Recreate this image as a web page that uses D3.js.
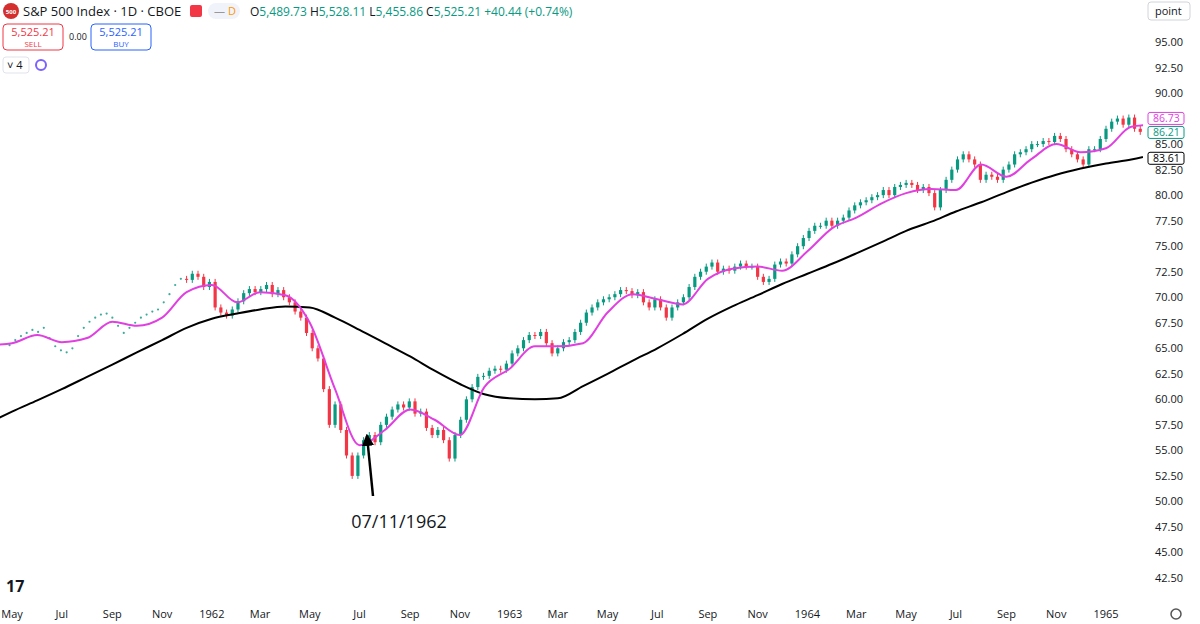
<!DOCTYPE html>
<html><head><meta charset="utf-8">
<script src="https://cdn.jsdelivr.net/npm/d3@7"></script>
<style>
body{margin:0;background:#fff;font-family:"Open Sans",Roboto,sans-serif}
</style></head><body>
<svg id="chart" width="1200" height="624"></svg>
<script>
// weekly closes, starting end of April 1961
const weekStart = new Date(1961, 3, 28);
const closes = [65.3,
 65.8,66.2,66.5,66.8,66.6, 67.0,66.0,65.2,64.8, 64.6,65.0,66.2,67.0, 67.6,68.0,68.3,68.4,68.0,
 67.2,66.5,67.0,67.5, 68.0,68.3,68.6,68.8, 69.5,70.3,71.2,71.8,71.7, 72.3,72.0,71.0,71.5,
 69.0,68.5,68.2,68.8, 69.6,70.4,70.8,70.5, 70.8,71.2,70.3,70.7,70.0, 69.5,68.6,68.0,66.5,
 65.0,64.0,61.0,57.5, 59.5,57.0,54.5,52.5,54.5, 56.0,56.5,55.8,57.5, 58.3,59.0,59.5,59.2,59.8,
 58.6,58.8,57.2,56.5, 57.0,56.0,54.2,56.5, 58.0,60.0,61.2,62.2,62.3, 62.8,63.0,62.9,63.5,
 64.5,65.0,65.8,66.3, 66.2,66.6,65.5,64.5, 65.0,65.6,65.8,66.6, 67.5,68.5,69.0,69.5,69.8,
 70.0,70.3,70.7,70.6, 70.2,70.5,69.5,69.0, 69.8,69.0,68.0,69.0,69.5, 70.0,71.0,72.0,72.5,
 73.0,73.4,72.5,72.8, 72.6,73.0,73.3,73.0,73.0, 72.0,71.5,71.8,73.2, 73.5,73.3,74.2,75.0,
 75.8,76.5,77.0,77.0,77.5, 77.0,77.5,77.8,78.5, 79.0,79.3,79.5,79.8, 80.0,80.5,80.0,80.8,
 81.0,81.2,81.0,80.5,80.8, 80.2,78.8,80.5,81.5, 82.5,83.5,84.0,83.5,83.0, 81.5,82.0,81.8,81.5,
 82.5,83.0,84.0,84.2, 84.5,85.0,85.0,85.3,85.2, 85.8,85.5,84.5,84.0, 83.5,83.0,84.5,84.5,
 85.5,86.5,87.2,87.5, 86.9,87.6,86.5,86.2];

// moving averages read at month starts, Apr 1961 .. Mar 1965
const maStart = new Date(1961, 3, 1);
const fastMA = [65.3,65.5,66.3,65.6,66.0,67.6,67.2,68.0,70.5,
 71.2,69.5,70.5,70.2,67.5,61.0,55.5,57.0,59.0,58.0,56.5,61.2,
 63.0,65.2,65.2,65.5,68.5,70.3,69.8,69.3,71.8,72.8,73.0,72.6,
 74.5,76.8,77.8,79.2,80.2,80.6,80.5,83.0,81.8,83.5,85.0,84.2,
 84.6,86.7,86.9];
const slowMA = [57.6,58.8,59.9,61.0,62.2,63.4,64.6,65.8,67.0,
 67.9,68.4,68.8,69.1,69.0,68.0,66.8,65.5,64.2,62.8,61.5,60.5,
 60.1,60.0,60.1,61.3,62.5,63.8,65.0,66.4,67.9,69.1,70.2,71.3,
 72.3,73.3,74.3,75.4,76.5,77.4,78.4,79.3,80.3,81.2,82.0,82.6,
 83.1,83.5,84.0];
const lastLabels = [86.73, 86.21, 83.61];
const priceTicks = [42.5,45,47.5,50,52.5,55,57.5,60,62.5,65,67.5,70,72.5,75,77.5,80,82.5,85,87.5,90,92.5,95];
const timeTicks = [[1961,4,"May"],[1961,6,"Jul"],[1961,8,"Sep"],[1961,10,"Nov"],[1962,0,"1962"],[1962,2,"Mar"],[1962,4,"May"],[1962,6,"Jul"],[1962,8,"Sep"],[1962,10,"Nov"],[1963,0,"1963"],[1963,2,"Mar"],[1963,4,"May"],[1963,6,"Jul"],[1963,8,"Sep"],[1963,10,"Nov"],[1964,0,"1964"],[1964,2,"Mar"],[1964,4,"May"],[1964,6,"Jul"],[1964,8,"Sep"],[1964,10,"Nov"],[1965,0,"1965"]];

const svg = d3.select('#chart');
const plotW = 1143;
const x = d3.scaleTime().domain([new Date(1961,4,1), new Date(1965,0,1)]).range([12,1106]);
const y = d3.scaleLinear().domain([42.5,95]).range([578,42]);
const up = '#089981', down = '#f23645', pink = '#e040e0';

const plot = svg.append('g');
plot.append('clipPath').attr('id','clip').append('rect').attr('x',0).attr('y',0).attr('width',plotW).attr('height',600);
const g = plot.append('g').attr('clip-path','url(#clip)');

const bars = closes.map((c,i) => ({
  d: d3.timeDay.offset(weekStart, 7*i),
  o: i ? closes[i-1] : c, c: c
}));
const cutoff = new Date(1961,11,1);

// pre-December: dotted line style
g.selectAll('circle.dot').data(bars.filter(b => b.d < cutoff)).join('circle')
  .attr('cx', b => x(b.d)).attr('cy', b => y(b.c)).attr('r',1.1).attr('fill', up).attr('opacity',0.8);
const cb = bars.filter(b => b.d >= cutoff);
g.selectAll('line.wick').data(cb).join('line')
  .attr('x1', b => x(b.d)).attr('x2', b => x(b.d))
  .attr('y1', b => y(Math.max(b.o,b.c)) - 3).attr('y2', b => y(Math.min(b.o,b.c)) + 3)
  .attr('stroke', b => b.c >= b.o ? up : down).attr('stroke-width',1);
g.selectAll('rect.body').data(cb).join('rect')
  .attr('x', b => x(b.d) - 1.6).attr('width', 3.2)
  .attr('y', b => y(Math.max(b.o,b.c))).attr('height', b => Math.max(1, Math.abs(y(b.o)-y(b.c))))
  .attr('fill', b => b.c >= b.o ? up : down);

const maDates = fastMA.map((v,i) => d3.timeMonth.offset(maStart, i));
const line = d3.line().x((v,i) => x(maDates[i])).y(v => y(v)).curve(d3.curveMonotoneX);
g.append('path').datum(slowMA).attr('d', line).attr('fill','none').attr('stroke','#000').attr('stroke-width',2);
g.append('path').datum(fastMA).attr('d', line).attr('fill','none').attr('stroke',pink).attr('stroke-width',2);

// price axis
const ya = svg.append('g');
priceTicks.forEach(t => ya.append('text').attr('x',1155).attr('y',y(t)+4).attr('font-size',11).attr('fill','#131722').text(t.toFixed(2)));
svg.append('rect').attr('x',1148).attr('y',2).attr('width',42).attr('height',18).attr('rx',3).attr('fill','#fff').attr('stroke','#d1d4dc');
svg.append('text').attr('x',1155).attr('y',15).attr('font-size',11).attr('fill','#131722').text('point');
// last-value labels, pushed apart so they don't overlap
const labelCols = [pink, up, '#000'];
let prevY = -Infinity;
lastLabels.forEach((v,i) => {
  let ly = Math.max(y(v), prevY + 14);
  if (i === 0) ly = y(v) - 8;
  if (i === 1) ly = prevY + 14;
  prevY = ly;
  svg.append('rect').attr('x',1148).attr('y',ly-6).attr('width',36).attr('height',12).attr('rx',2).attr('fill','#fff').attr('stroke',labelCols[i]);
  svg.append('text').attr('x',1153).attr('y',ly+4).attr('font-size',10.5).attr('fill',labelCols[i]).text(v.toFixed(2));
});

// time axis
timeTicks.forEach(([yr,m,l]) => svg.append('text').attr('x',x(new Date(yr,m,1))).attr('y',618)
  .attr('text-anchor','middle').attr('font-size',11).attr('fill','#131722').text(l));

// header
svg.append('circle').attr('cx',11).attr('cy',11).attr('r',8).attr('fill','#d32f2f');
svg.append('text').attr('x',11).attr('y',14).attr('text-anchor','middle').attr('font-size',6).attr('fill','#fff').attr('font-weight','bold').text('500');
svg.append('text').attr('x',23).attr('y',16).attr('font-size',13).attr('fill','#131722').text('S&P 500 Index · 1D · CBOE');
svg.append('rect').attr('x',190).attr('y',5).attr('width',12).attr('height',12).attr('rx',2).attr('fill','#f23645');
svg.append('rect').attr('x',208).attr('y',3).attr('width',32).attr('height',16).attr('rx',8).attr('fill','#f0f3fa');
svg.append('text').attr('x',214).attr('y',15).attr('font-size',11).attr('fill','#999').text('—');
svg.append('text').attr('x',228).attr('y',15).attr('font-size',11).attr('fill','#ff9800').text('D');
const hdr = svg.append('text').attr('x',250).attr('y',16).attr('font-size',12);
[['O','#131722'],['5,489.73 ',up],['H','#131722'],['5,528.11 ',up],['L','#131722'],['5,455.86 ',up],['C','#131722'],['5,525.21 +40.44 (+0.74%)',up]]
  .forEach(([t,c]) => hdr.append('tspan').attr('fill',c).text(t));
svg.append('rect').attr('x',3).attr('y',24).attr('width',60).attr('height',26).attr('rx',4).attr('fill','#fff').attr('stroke','#f23645');
svg.append('text').attr('x',33).attr('y',36).attr('text-anchor','middle').attr('font-size',11).attr('fill','#f23645').text('5,525.21');
svg.append('text').attr('x',33).attr('y',47).attr('text-anchor','middle').attr('font-size',8).attr('fill','#f23645').text('SELL');
svg.append('text').attr('x',69).attr('y',40).attr('font-size',9).attr('fill','#131722').text('0.00');
svg.append('rect').attr('x',91).attr('y',24).attr('width',60).attr('height',26).attr('rx',4).attr('fill','#fff').attr('stroke','#2962ff');
svg.append('text').attr('x',121).attr('y',36).attr('text-anchor','middle').attr('font-size',11).attr('fill','#2962ff').text('5,525.21');
svg.append('text').attr('x',121).attr('y',47).attr('text-anchor','middle').attr('font-size',8).attr('fill','#2962ff').text('BUY');
svg.append('rect').attr('x',3).attr('y',57).attr('width',26).attr('height',16).attr('rx',3).attr('fill','#fff').attr('stroke','#e0e3eb');
svg.append('text').attr('x',7).attr('y',69).attr('font-size',11).attr('fill','#131722').text('˅ 4');
svg.append('circle').attr('cx',41).attr('cy',65).attr('r',5).attr('fill','none').attr('stroke','#7b61ff').attr('stroke-width',2);

// TV logo & gear
svg.append('text').attr('x',6).attr('y',592).attr('font-size',16).attr('font-weight','bold').attr('fill','#131722').text('17');
svg.append('circle').attr('cx',1176).attr('cy',614).attr('r',5).attr('fill','none').attr('stroke','#555').attr('stroke-width',1.5);

// annotation
svg.append('defs').append('marker').attr('id','ah').attr('viewBox','0 0 10 10').attr('refX',8).attr('refY',5)
  .attr('markerWidth',5).attr('markerHeight',5).attr('orient','auto')
  .append('path').attr('d','M0,0 L10,5 L0,10 Z').attr('fill','#000');
svg.append('line').attr('x1',373).attr('y1',496).attr('x2',367).attr('y2',436).attr('stroke','#000').attr('stroke-width',2.5).attr('marker-end','url(#ah)');
svg.append('text').attr('x',399).attr('y',528).attr('text-anchor','middle').attr('font-size',18).attr('fill','#131722').text('07/11/1962');
</script>
</body></html>
